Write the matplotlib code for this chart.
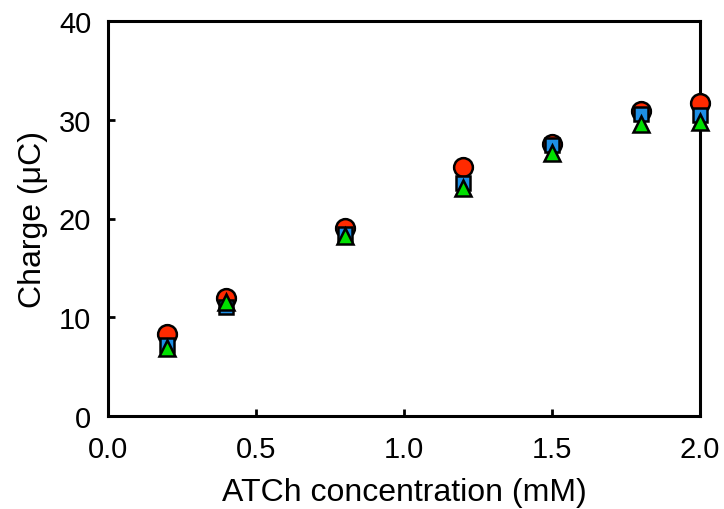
import matplotlib
matplotlib.use("Agg")
import matplotlib.pyplot as plt

plt.rcParams['font.family'] = ['Liberation Sans', 'DejaVu Sans']

# ATCh concentration (mM)
conc = [0.2, 0.4, 0.8, 1.2, 1.5, 1.8, 2.0]

# charge (uC) for three series
charge_red = [8.3, 11.9, 19.0, 25.2, 27.5, 30.9, 31.7]
charge_blue = [7.2, 11.0, 18.4, 23.6, 27.4, 30.6, 30.5]
charge_green = [6.9, 11.5, 18.2, 23.1, 26.6, 29.6, 29.8]

fig = plt.figure(figsize=(7.24, 5.10), dpi=100)
ax = fig.add_axes([108/724, 1 - 417/510, 592/724, 395/510])

ax.plot(conc, charge_red, 'o', color='#ff2a00', markersize=13.5,
        markeredgecolor='black', markeredgewidth=1.8, zorder=3, clip_on=False)
ax.plot(conc, charge_blue, 's', color='#1e8fe6', markersize=10.5,
        markeredgecolor='black', markeredgewidth=1.8, zorder=4, clip_on=False)
ax.plot(conc, charge_green, '^', color='#00e000', markersize=11,
        markeredgecolor='black', markeredgewidth=1.8, zorder=5, clip_on=False)

ax.set_xlim(0, 2.0)
ax.set_ylim(0, 40)
ax.set_xticks([0, 0.5, 1.0, 1.5, 2.0])
ax.set_xticklabels(['0.0', '0.5', '1.0', '1.5', '2.0'])
ax.set_yticks([0, 10, 20, 30, 40])

for s in ax.spines.values():
    s.set_linewidth(2.2)
ax.tick_params(direction='in', length=5, width=2, labelsize=21)
ax.tick_params(axis='x', pad=14)
ax.tick_params(axis='y', pad=12)
ax.set_xlabel('ATCh concentration (mM)', fontsize=23, labelpad=10)
ax.set_ylabel('Charge (μC)', fontsize=23, labelpad=8)

fig.savefig('out.png', dpi=100)
